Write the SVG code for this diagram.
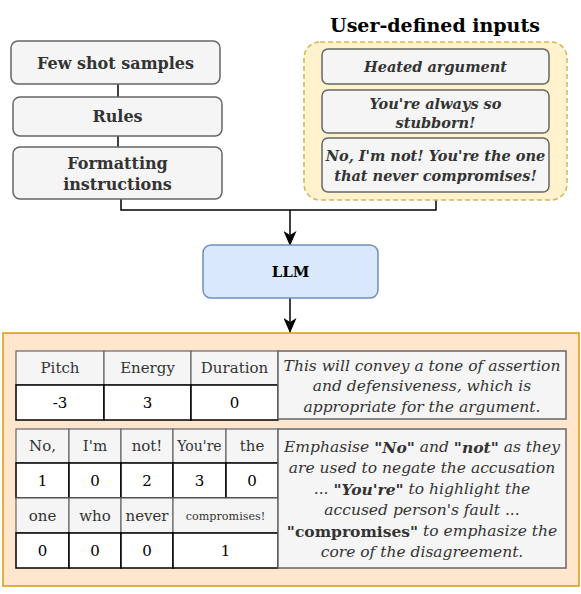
<svg xmlns="http://www.w3.org/2000/svg" width="581" height="594" viewBox="0 0 581 594" font-family="'DejaVu Serif', serif">
<defs>
<style>
text{font-family:'DejaVu Serif',serif;text-anchor:middle;dominant-baseline:central}
.box{fill:#f5f5f5;stroke:#666;stroke-width:1.5}
.lbl{font-family:'DejaVu Serif',serif;font-weight:bold;font-size:16px;fill:#333}
.in{font-family:'DejaVu Serif',serif;font-weight:bold;font-style:italic;font-size:14.5px;fill:#333}
.hd{fill:#f5f5f5;stroke:#666;stroke-width:1.2}
.vl{fill:#fff;stroke:#000;stroke-width:1.5}
.ht{font-family:'DejaVu Serif',serif;font-size:15px;fill:#333}
.vt{font-family:'DejaVu Serif',serif;font-size:15px;fill:#000}
.note{fill:#f5f5f5;stroke:#666;stroke-width:1.5}
.nt{font-family:'DejaVu Serif',serif;font-style:italic;font-size:15.5px;fill:#333}
.conn{fill:none;stroke:#000;stroke-width:1.5}
</style>
<marker id="arr" viewBox="0 0 15 13" refX="14" refY="6.5" markerWidth="15" markerHeight="13" markerUnits="userSpaceOnUse" orient="auto">
<path d="M0,0 L15,6.5 L0,13 L4,6.5 z" fill="#000"/>
</marker>
</defs>
<g id="connectors">
<path class="conn" d="M118,84 V97"/>
<path class="conn" d="M118,136 V147"/>
<path class="conn" d="M121,199 V210 H436 V200"/>
<path class="conn" d="M290,210 V245" marker-end="url(#arr)"/>
<path class="conn" d="M290,298 V332" marker-end="url(#arr)"/>
</g>
<g id="few-shot"><rect class="box" x="11" y="41" width="209" height="43" rx="7"/><text class="lbl" x="115.5" y="63">Few shot samples</text></g>
<g id="rules"><rect class="box" x="13" y="97" width="209" height="39" rx="7"/><text class="lbl" x="117.5" y="116">Rules</text></g>
<g id="formatting"><rect class="box" x="13" y="147" width="209" height="52" rx="7"/><text class="lbl" x="117.5" y="163">Formatting</text><text class="lbl" x="117.5" y="184">instructions</text></g>
<g id="user-inputs">
<text x="435" y="25" font-family="'DejaVu Serif', serif" style="font-weight:bold;font-size:19px;fill:#000">User-defined inputs</text>
<rect x="304" y="42" width="263" height="158" rx="16" fill="#fff2cc" stroke="#d6b656" stroke-width="1.5" stroke-dasharray="5,3"/>
</g>
<g id="heated"><rect class="box" x="322" y="49" width="227" height="35" rx="6"/><text class="in" x="435.5" y="66">Heated argument</text></g>
<g id="stubborn"><rect class="box" x="322" y="90" width="227" height="43" rx="6"/><text class="in" x="435.5" y="103">You're always so</text><text class="in" x="435.5" y="122">stubborn!</text></g>
<g id="reply"><rect class="box" x="322" y="138" width="227" height="54" rx="6"/><text class="in" x="435.5" y="155">No, I'm not! You're the one</text><text class="in" x="435.5" y="175">that never compromises!</text></g>
<g id="llm"><rect x="203" y="245" width="175" height="53" rx="8" fill="#dae8fc" stroke="#6c8ebf" stroke-width="1.5"/><text x="290.5" y="272" font-family="'DejaVu Serif', serif" style="font-weight:bold;font-size:15px;fill:#000">LLM</text></g>
<g id="output">
<rect x="3" y="333" width="576" height="253" fill="#ffe6cc" stroke="#d79b00" stroke-width="1.5"/>
<g id="table1">
<rect class="hd" x="16" y="351" width="88" height="34"/><text class="ht" x="60" y="368">Pitch</text>
<rect class="hd" x="104" y="351" width="87" height="34"/><text class="ht" x="147.5" y="368">Energy</text>
<rect class="hd" x="191" y="351" width="87" height="34"/><text class="ht" x="234.5" y="368">Duration</text>
<rect class="vl" x="16" y="385" width="88" height="35"/><text class="vt" x="60" y="403">-3</text>
<rect class="vl" x="104" y="385" width="87" height="35"/><text class="vt" x="147.5" y="403">3</text>
<rect class="vl" x="191" y="385" width="87" height="35"/><text class="vt" x="234.5" y="403">0</text>
<rect class="note" x="278" y="351" width="288" height="68"/>
<text class="nt" x="422" y="366">This will convey a tone of assertion</text>
<text class="nt" x="422" y="386">and defensiveness, which is</text>
<text class="nt" x="422" y="407">appropriate for the argument.</text>
</g>
<g id="table2">
<rect class="hd" x="16" y="429" width="53" height="34"/><text class="ht" x="42.5" y="446">No,</text>
<rect class="hd" x="69" y="429" width="52" height="34"/><text class="ht" x="95" y="446">I'm</text>
<rect class="hd" x="121" y="429" width="52" height="34"/><text class="ht" x="147" y="446">not!</text>
<rect class="hd" x="173" y="429" width="53" height="34"/><text class="ht" x="199.5" y="446" style="font-size:14px">You're</text>
<rect class="hd" x="226" y="429" width="52" height="34"/><text class="ht" x="252" y="446">the</text>
<rect class="vl" x="16" y="463" width="53" height="35"/><text class="vt" x="42.5" y="481">1</text>
<rect class="vl" x="69" y="463" width="52" height="35"/><text class="vt" x="95" y="481">0</text>
<rect class="vl" x="121" y="463" width="52" height="35"/><text class="vt" x="147" y="481">2</text>
<rect class="vl" x="173" y="463" width="53" height="35"/><text class="vt" x="199.5" y="481">3</text>
<rect class="vl" x="226" y="463" width="52" height="35"/><text class="vt" x="252" y="481">0</text>
<rect class="hd" x="16" y="498" width="53" height="35"/><text class="ht" x="42.5" y="516">one</text>
<rect class="hd" x="69" y="498" width="52" height="35"/><text class="ht" x="95" y="516">who</text>
<rect class="hd" x="121" y="498" width="52" height="35"/><text class="ht" x="147" y="516">never</text>
<rect class="hd" x="173" y="498" width="105" height="35"/><text class="ht" x="225.5" y="516" style="font-size:11.2px">compromises!</text>
<rect class="vl" x="16" y="533" width="53" height="35"/><text class="vt" x="42.5" y="551">0</text>
<rect class="vl" x="69" y="533" width="52" height="35"/><text class="vt" x="95" y="551">0</text>
<rect class="vl" x="121" y="533" width="52" height="35"/><text class="vt" x="147" y="551">0</text>
<rect class="vl" x="173" y="533" width="105" height="35"/><text class="vt" x="225.5" y="551">1</text>
<rect class="note" x="278" y="429" width="288" height="139"/>
<text class="nt" x="422" y="447">Emphasise <tspan font-weight="bold">"No"</tspan> and <tspan font-weight="bold">"not"</tspan> as they</text>
<text class="nt" x="422" y="468">are used to negate the accusation</text>
<text class="nt" x="422" y="489">... <tspan font-weight="bold">"You're"</tspan> to highlight the</text>
<text class="nt" x="422" y="510">accused person's fault ...</text>
<text class="nt" x="422" y="531"><tspan font-weight="bold" font-style="normal">"compromises"</tspan> to emphasize the</text>
<text class="nt" x="422" y="552">core of the disagreement.</text>
</g>
</g>
</svg>
